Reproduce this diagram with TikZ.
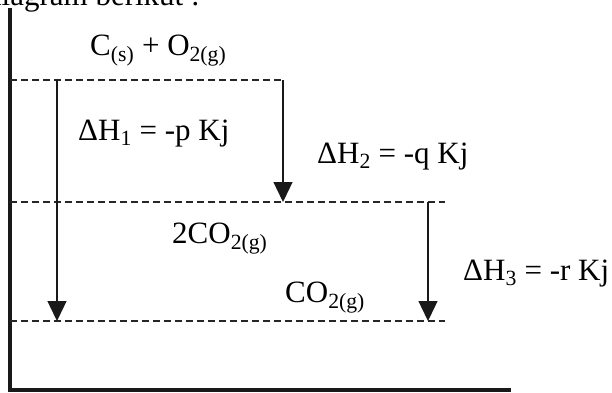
\documentclass[tikz,border=0pt]{standalone}
\usepackage{fontspec}
\setmainfont{Liberation Serif}
\usetikzlibrary{arrows.meta}
\begin{document}
\begin{tikzpicture}[x=1pt,y=-1pt,
  axisline/.style={line width=3.5pt,draw=black!90,line cap=rect},
  level/.style={dash pattern=on 7pt off 4pt, line width=1.7pt, draw=black!85},
  harrow/.style={line width=1.3pt, draw=black!90, -{Triangle[width=19pt,length=20pt]}},
  lbl/.style={anchor=base west, inner sep=0pt, text=black, font=\fontsize{31}{37}\selectfont}]
\useasboundingbox (0,0) rectangle (612,392);
\begin{scope}
  \clip (0,0) rectangle (612,392);
  \node[lbl] (cut) at (-14,5) {diagram berikut :};
\end{scope}
% axes
\coordinate (ytop) at (10,10);
\coordinate (o) at (10,390);
\coordinate (xend) at (509,390);
\draw[axisline] (ytop) -- (o) -- (xend);
% levels
\coordinate (l1a) at (10,80);  \coordinate (l1b) at (283,80);
\coordinate (l2a) at (10,202); \coordinate (l2b) at (445,202);
\coordinate (l3a) at (10,321); \coordinate (l3b) at (445,321);
\draw[level] (l1a) -- (l1b);
\draw[level] (l2a) -- (l2b);
\draw[level] (l3a) -- (l3b);
% arrows
\coordinate (a1s) at (57,80);   \coordinate (a1e) at (57,321);
\coordinate (a2s) at (283,80);  \coordinate (a2e) at (283,202);
\coordinate (a3s) at (428,202); \coordinate (a3e) at (428,321);
\draw[harrow] (a1s) -- (a1e);
\draw[harrow] (a2s) -- (a2e);
\draw[harrow] (a3s) -- (a3e);
% labels
\node[lbl] (r)  at (90,55)  {C\textsubscript{(s)} + O\textsubscript{2(g)}};
\node[lbl] (h1) at (78,140) {ΔH\textsubscript{1} = -p Kj};
\node[lbl] (h2) at (317,163) {ΔH\textsubscript{2} = -q Kj};
\node[lbl] (p1) at (172,243) {2CO\textsubscript{2(g)}};
\node[lbl] (p2) at (285,302) {CO\textsubscript{2(g)}};
\node[lbl] (h3) at (463,280) {ΔH\textsubscript{3} = -r Kj};
\end{tikzpicture}
\end{document}
